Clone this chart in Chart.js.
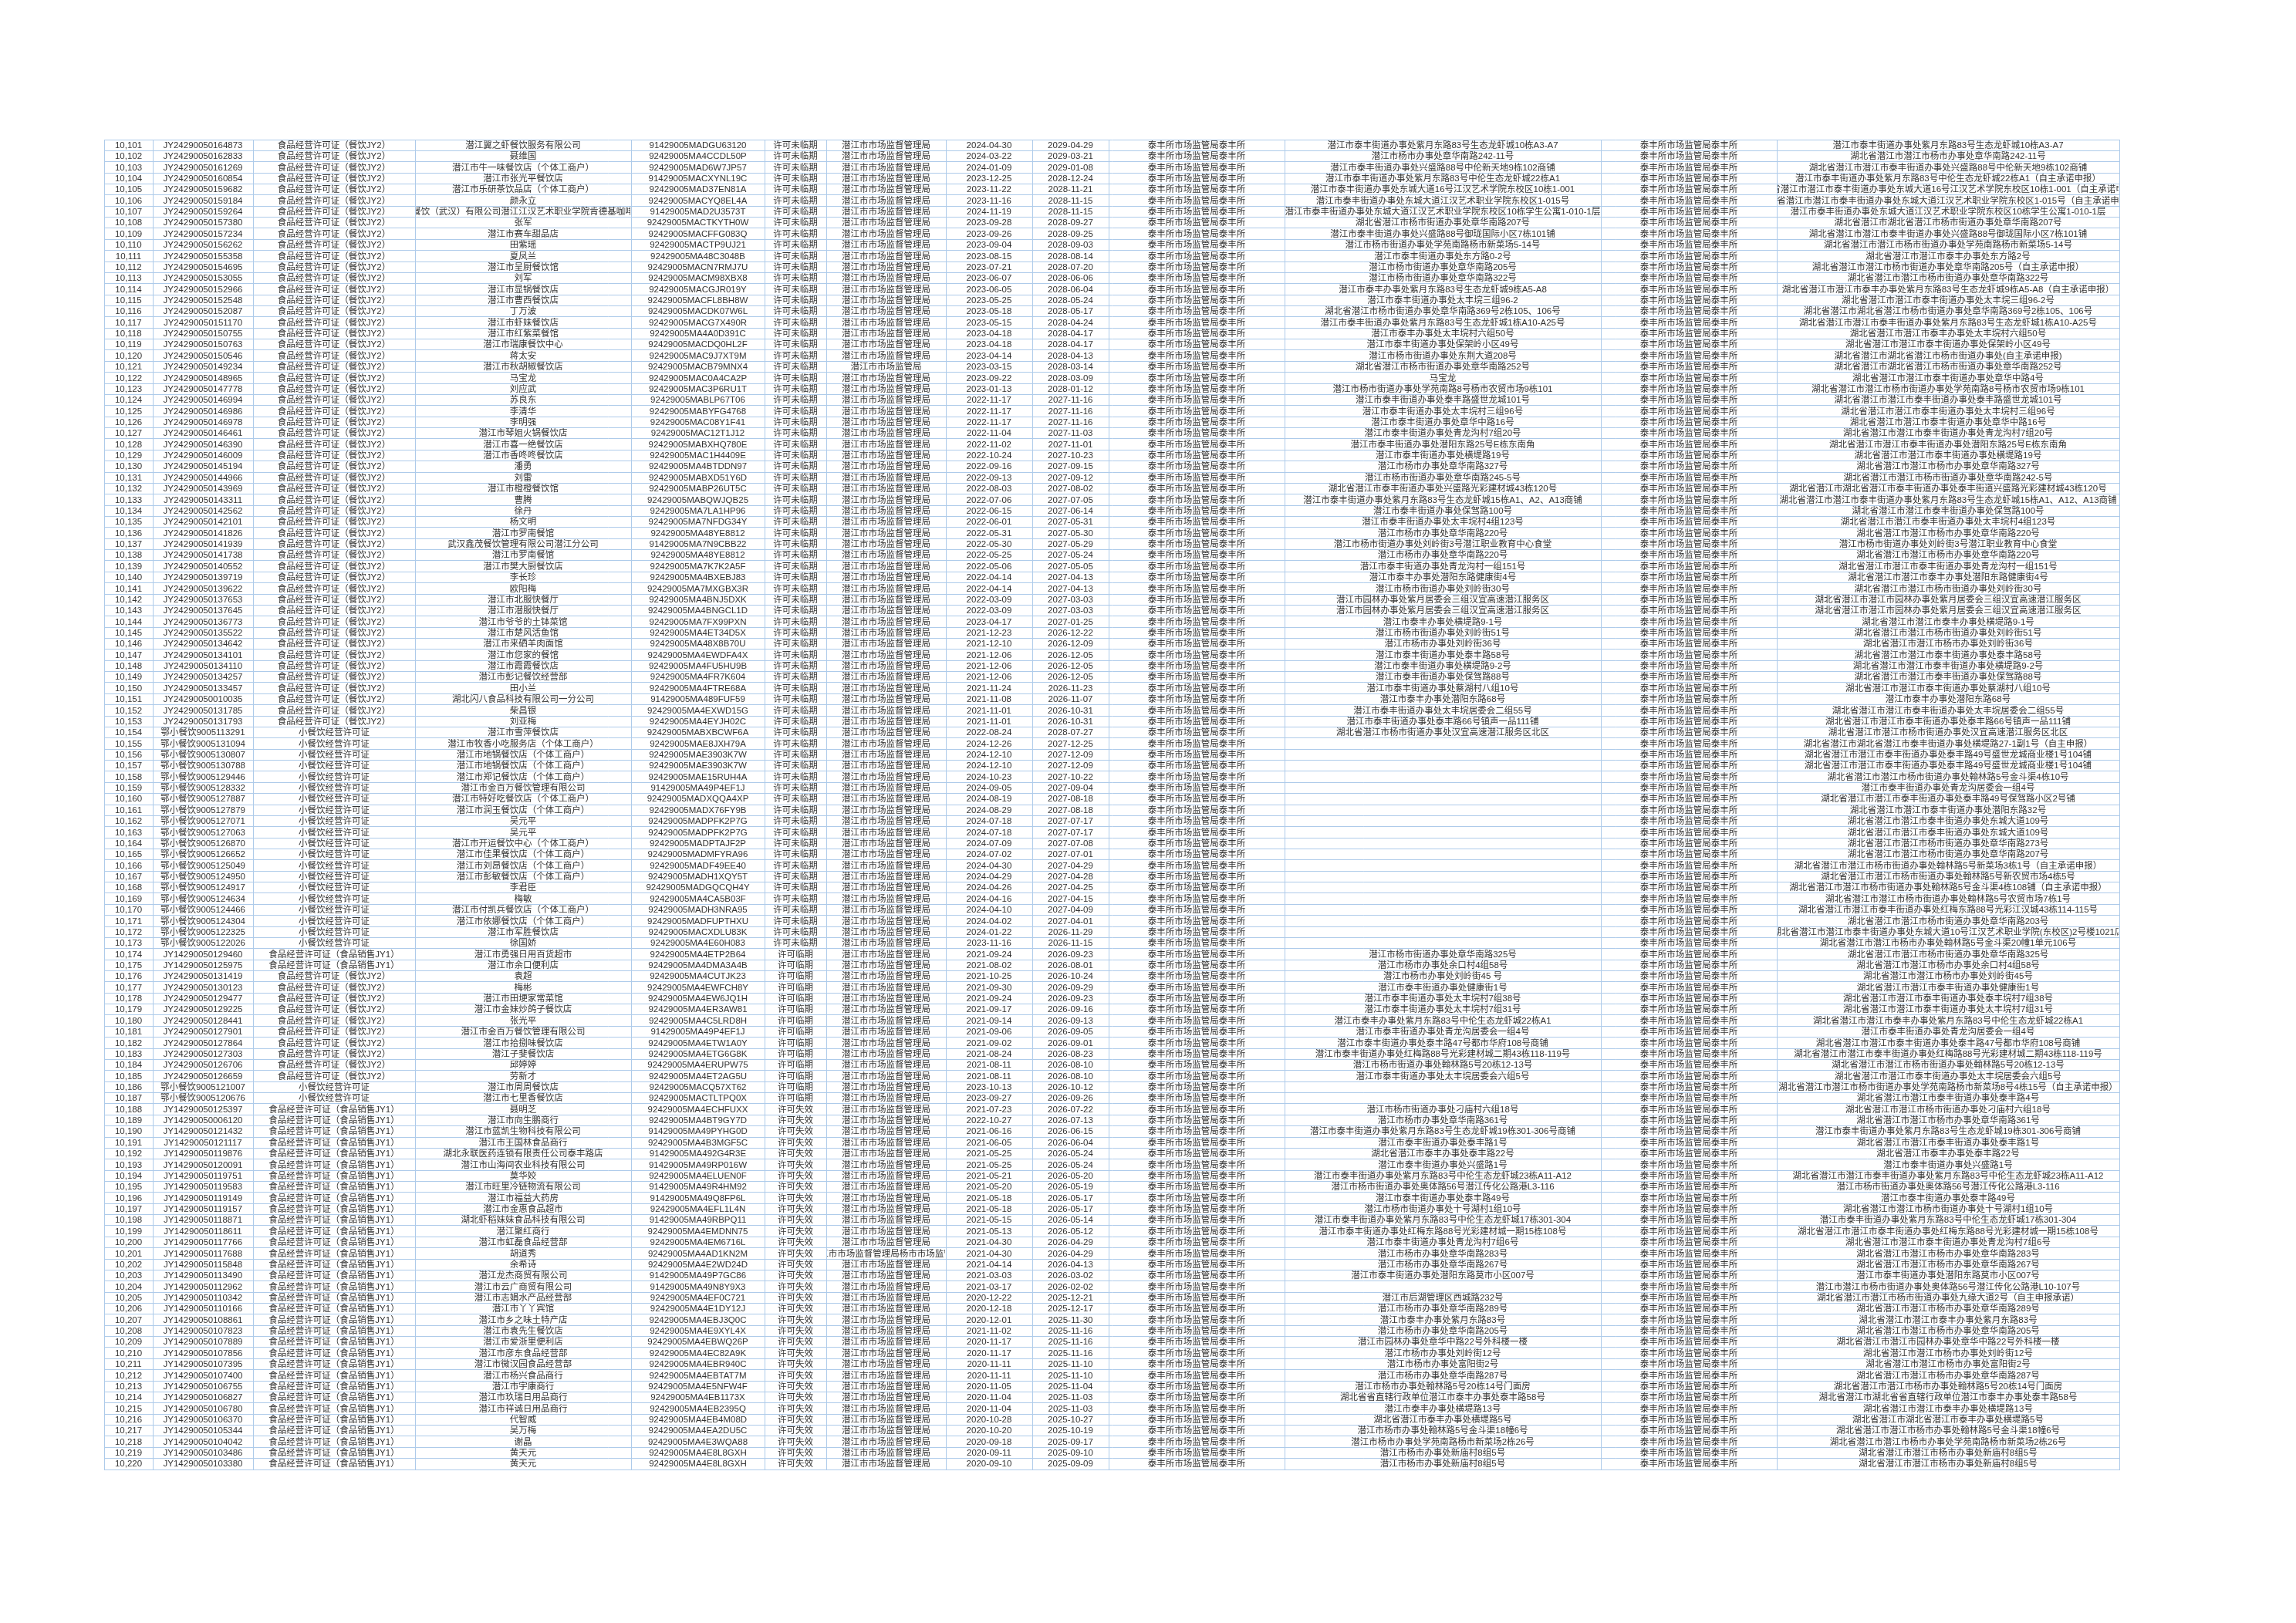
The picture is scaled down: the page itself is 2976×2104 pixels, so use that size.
<!DOCTYPE html>
<html>
<head>
<meta charset="utf-8">
<script src="https://cdn.jsdelivr.net/npm/chart.js@4.4.1/dist/chart.umd.min.js"></script>
<style>
html, body { margin: 0; padding: 0; background: #fff; }
#wrap { width: 2976px; height: 2104px; }
</style>
</head>
<body>
<div id="wrap"><canvas id="sheet"></canvas></div>
<script>
// repeated cell texts
var T2 = '食品经营许可证（餐饮JY2）';
var T1 = '食品经营许可证（食品销售JY1）';
var TS = '小餐饮经营许可证';
var S0 = '许可未临期', S1 = '许可临期', S2 = '许可失效';
var A = '潜江市市场监督管理局';
var P = '泰丰所市场监管局泰丰所';

var ids = [
  '10,101','10,102','10,103','10,104','10,105','10,106','10,107','10,108','10,109','10,110',
  '10,111','10,112','10,113','10,114','10,115','10,116','10,117','10,118','10,119','10,120',
  '10,121','10,122','10,123','10,124','10,125','10,126','10,127','10,128','10,129','10,130',
  '10,131','10,132','10,133','10,134','10,135','10,136','10,137','10,138','10,139','10,140',
  '10,141','10,142','10,143','10,144','10,145','10,146','10,147','10,148','10,149','10,150',
  '10,151','10,152','10,153','10,154','10,155','10,156','10,157','10,158','10,159','10,160',
  '10,161','10,162','10,163','10,164','10,165','10,166','10,167','10,168','10,169','10,170',
  '10,171','10,172','10,173','10,174','10,175','10,176','10,177','10,178','10,179','10,180',
  '10,181','10,182','10,183','10,184','10,185','10,186','10,187','10,188','10,189','10,190',
  '10,191','10,192','10,193','10,194','10,195','10,196','10,197','10,198','10,199','10,200',
  '10,201','10,202','10,203','10,204','10,205','10,206','10,207','10,208','10,209','10,210',
  '10,211','10,212','10,213','10,214','10,215','10,216','10,217','10,218','10,219','10,220'
];

var licenseNos = [
  'JY24290050164873','JY24290050162833','JY24290050161269','JY24290050160854','JY24290050159682','JY24290050159184','JY24290050159264','JY24290050157380','JY24290050157234','JY24290050156262',
  'JY24290050155358','JY24290050154695','JY24290050153055','JY24290050152966','JY24290050152548','JY24290050152087','JY24290050151170','JY24290050150755','JY24290050150763','JY24290050150546',
  'JY24290050149234','JY24290050148965','JY24290050147778','JY24290050146994','JY24290050146986','JY24290050146978','JY24290050146461','JY24290050146390','JY24290050146009','JY24290050145194',
  'JY24290050144966','JY24290050143969','JY24290050143311','JY24290050142562','JY24290050142101','JY24290050141826','JY24290050141939','JY24290050141738','JY24290050140552','JY24290050139719',
  'JY24290050139622','JY24290050137653','JY24290050137645','JY24290050136773','JY24290050135522','JY24290050134642','JY24290050134101','JY24290050134110','JY24290050134257','JY24290050133457',
  'JY24290050010035','JY24290050131785','JY24290050131793','鄂小餐饮9005113291','鄂小餐饮9005131094','鄂小餐饮9005130807','鄂小餐饮9005130788','鄂小餐饮9005129446','鄂小餐饮9005128332','鄂小餐饮9005127887',
  '鄂小餐饮9005127879','鄂小餐饮9005127071','鄂小餐饮9005127063','鄂小餐饮9005126870','鄂小餐饮9005126652','鄂小餐饮9005125049','鄂小餐饮9005124950','鄂小餐饮9005124917','鄂小餐饮9005124634','鄂小餐饮9005124466',
  '鄂小餐饮9005124304','鄂小餐饮9005122325','鄂小餐饮9005122026','JY14290050129460','JY14290050125975','JY24290050131419','JY24290050130123','JY24290050129477','JY24290050129225','JY24290050128441',
  'JY24290050127901','JY24290050127864','JY24290050127303','JY24290050126706','JY24290050126659','鄂小餐饮9005121007','鄂小餐饮9005120676','JY14290050125397','JY14290050006120','JY14290050121432',
  'JY14290050121117','JY14290050119876','JY14290050120091','JY14290050119751','JY14290050119583','JY14290050119149','JY14290050119157','JY14290050118871','JY14290050118611','JY14290050117766',
  'JY14290050117688','JY14290050115848','JY14290050113490','JY14290050112962','JY14290050110342','JY14290050110166','JY14290050108861','JY14290050107823','JY14290050107889','JY14290050107856',
  'JY14290050107395','JY14290050107400','JY14290050106755','JY14290050106827','JY14290050106780','JY14290050106370','JY14290050105344','JY14290050104042','JY14290050103486','JY14290050103380'
];

var licenseTypes = [
  T2,T2,T2,T2,T2,T2,T2,T2,T2,T2,
  T2,T2,T2,T2,T2,T2,T2,T2,T2,T2,
  T2,T2,T2,T2,T2,T2,T2,T2,T2,T2,
  T2,T2,T2,T2,T2,T2,T2,T2,T2,T2,
  T2,T2,T2,T2,T2,T2,T2,T2,T2,T2,
  T2,T2,T2,TS,TS,TS,TS,TS,TS,TS,
  TS,TS,TS,TS,TS,TS,TS,TS,TS,TS,
  TS,TS,TS,T1,T1,T2,T2,T2,T2,T2,
  T2,T2,T2,T2,T2,TS,TS,T1,T1,T1,
  T1,T1,T1,T1,T1,T1,T1,T1,T1,T1,
  T1,T1,T1,T1,T1,T1,T1,T1,T1,T1,
  T1,T1,T1,T1,T1,T1,T1,T1,T1,T1
];

var names = [
  '潜江翼之虾餐饮服务有限公司','聂维国','潜江市牛一味餐饮店（个体工商户）','潜江市张光平餐饮店','潜江市乐研茶饮品店（个体工商户）','颜永立','百胜餐饮（武汉）有限公司潜江江汉艺术职业学院肯德基咖啡餐厅','张军','潜江市赛车甜品店','田紫瑶',
  '夏凤兰','潜江市呈厨餐饮馆','刘军','潜江市显锅餐饮店','潜江市曹西餐饮店','丁万波','潜江市虾妹餐饮店','潜江市红紫菜餐馆','潜江市瑞康餐饮中心','蒋太安',
  '潜江市秋胡椒餐饮店','马宝龙','刘应武','苏良东','李清华','李明强','潜江市琴姐火锅餐饮店','潜江市喜一绝餐饮店','潜江市香咚咚餐饮店','潘勇',
  '刘雷','潜江市橙橙餐饮馆','曹腾','徐丹','杨文明','潜江市罗南餐馆','武汉鑫茂餐饮管理有限公司潜江分公司','潜江市罗南餐馆','潜江市樊大厨餐饮店','李长珍',
  '欧阳梅','潜江市北服快餐厅','潜江市潜服快餐厅','潜江市爷爷的土钵菜馆','潜江市楚风活鱼馆','潜江市来硒羊肉面馆','潜江市您家的餐馆','潜江市霞霞餐饮店','潜江市彭记餐饮经营部','田小兰',
  '湖北闪八食品科技有限公司一分公司','柴昌银','刘亚梅','潜江市雪萍餐饮店','潜江市牧香小吃服务店（个体工商户）','潜江市地锅餐饮店（个体工商户）','潜江市地锅餐饮店（个体工商户）','潜江市郑记餐饮店（个体工商户）','潜江市金百万餐饮管理有限公司','潜江市特好吃餐饮店（个体工商户）',
  '潜江市润玉餐饮店（个体工商户）','吴元平','吴元平','潜江市开运餐饮中心（个体工商户）','潜江市佳果餐饮店（个体工商户）','潜江市刘昂餐饮店（个体工商户）','潜江市彭敏餐饮店（个体工商户）','李君臣','梅敏','潜江市付凯兵餐饮店（个体工商户）',
  '潜江市依娜餐饮店（个体工商户）','潜江市军胜餐饮店','徐国娇','潜江市勇强日用百货超市','潜江市余口便利店','袁超','梅彬','潜江市田埂家常菜馆','潜江市金妹炒鸽子餐饮店','张光平',
  '潜江市金百万餐饮管理有限公司','潜江市拾捌味餐饮店','潜江子斐餐饮店','邱婷婷','劳新才','潜江市周周餐饮店','潜江市七里香餐饮店','聂明芝','潜江市向生鹏商行','潜江市蓝凯生物科技有限公司',
  '潜江市王国林食品商行','湖北永联医药连锁有限责任公司泰丰路店','潜江市山海间农业科技有限公司','莫华姣','潜江市旺里冷链物流有限公司','潜江市福益大药房','潜江市金惠食品超市','湖北虾稻妹妹食品科技有限公司','潜江聚红商行','潜江市虹磊食品经营部',
  '胡道秀','余希诗','潜江龙杰商贸有限公司','潜江市云广商贸有限公司','潜江市志娟水产品经营部','潜江市丫丫宾馆','潜江市乡之味土特产店','潜江市袁先生餐饮店','潜江市爱浙里便利店','潜江市彦东食品经营部',
  '潜江市微汉园食品经营部','潜江市杨兴食品商行','潜江市宇康商行','潜江市玖瑞日用品商行','潜江市祥诚日用品商行','代智威','吴万梅','谢晶','黄天元','黄天元'
];

var creditCodes = [
  '91429005MADGU63120','92429005MA4CCDL50P','92429005MAD6W7JP57','91429005MACXYNL19C','92429005MAD37EN81A','92429005MACYQ8EL4A','91429005MAD2U3573T','92429005MACTKYTH0W','92429005MACFFG083Q','92429005MACTP9UJ21',
  '92429005MA48C3048B','92429005MACN7RMJ7U','92429005MACM98XBX8','92429005MACGJR019Y','92429005MACFL8BH8W','92429005MACDK07W6L','92429005MACG7X490R','92429005MA4A0D391C','92429005MACDQ0HL2F','92429005MAC9J7XT9M',
  '92429005MACB79MNX4','92429005MAC0A4CA2P','92429005MAC3P6RU1T','92429005MABLP67T06','92429005MABYFG4768','92429005MAC08Y1F41','92429005MAC12T1J12','92429005MABXHQ780E','92429005MAC1H4409E','92429005MA4BTDDN97',
  '92429005MABXD51Y6D','92429005MABP26UT5C','92429005MABQWJQB25','92429005MA7LA1HP96','92429005MA7NFDG34Y','92429005MA48YE8812','91429005MA7N9CBB22','92429005MA48YE8812','92429005MA7K7K2A5F','92429005MA4BXEBJ83',
  '92429005MA7MXGBX3R','92429005MA4BNJ5DXK','92429005MA4BNGCL1D','92429005MA7FX99PXN','92429005MA4ET34D5X','92429005MA48X8B70U','92429005MA4EWDFA4X','92429005MA4FU5HU9B','92429005MA4FR7K604','92429005MA4FTRE68A',
  '91429005MA489FUF59','92429005MA4EXWD15G','92429005MA4EYJH02C','92429005MABXBCWF6A','92429005MAE8JXH79A','92429005MAE3903K7W','92429005MAE3903K7W','92429005MAE15RUH4A','91429005MA49P4EF1J','92429005MADXQQA4XP',
  '92429005MADX76FY9B','92429005MADPFK2P7G','92429005MADPFK2P7G','92429005MADPTAJF2P','92429005MADMFYRA96','92429005MADF49EE40','92429005MADH1XQY5T','92429005MADGQCQH4Y','92429005MA4CA5B03F','92429005MADH3NRA95',
  '92429005MADFUPTHXU','92429005MACXDLU83K','92429005MA4E60H083','92429005MA4ETP2B64','92429005MA4DMA3A4B','92429005MA4CUTJK23','92429005MA4EWFCH8Y','92429005MA4EW6JQ1H','92429005MA4ER3AW81','92429005MA4C5LRD8H',
  '91429005MA49P4EF1J','92429005MA4ETW1A0Y','92429005MA4ETG6G8K','92429005MA4ERUPW75','92429005MA4ET2AG5U','92429005MACQ57XT62','92429005MACTLTPQ0X','92429005MA4ECHFUXX','92429005MA4BT9GY7D','91429005MA49PYHG0D',
  '92429005MA4B3MGF5C','91429005MA492G4R3E','91429005MA49RP016W','92429005MA4ELUEN0F','91429005MA49R4HM92','91429005MA49Q8FP6L','92429005MA4EFL1L4N','91429005MA49RBPQ11','92429005MA4EMDNN75','92429005MA4EM6716L',
  '92429005MA4AD1KN2M','92429005MA4E2WD24D','91429005MA49P7GC86','91429005MA49N8Y9X3','92429005MA4EF0C721','92429005MA4E1DY12J','92429005MA4EBJ3Q0C','92429005MA4E9XYL4X','92429005MA4EBWQ26P','92429005MA4EC82A9K',
  '92429005MA4EBR940C','92429005MA4EBTAT7M','92429005MA4E5NFW4F','92429005MA4EB1173X','92429005MA4EB2395Q','92429005MA4EB4M08D','92429005MA4EA2DU5C','92429005MA4E3WQA88','92429005MA4E8L8GXH','92429005MA4E8L8GXH'
];

var statuses = [
  S0,S0,S0,S0,S0,S0,S0,S0,S0,S0,
  S0,S0,S0,S0,S0,S0,S0,S0,S0,S0,
  S0,S0,S0,S0,S0,S0,S0,S0,S0,S0,
  S0,S0,S0,S0,S0,S0,S0,S0,S0,S0,
  S0,S0,S0,S0,S0,S0,S0,S0,S0,S0,
  S0,S0,S0,S0,S0,S0,S0,S0,S0,S0,
  S0,S0,S0,S0,S0,S0,S0,S0,S0,S0,
  S0,S0,S0,S1,S1,S1,S1,S1,S1,S1,
  S1,S1,S1,S1,S1,S1,S1,S2,S2,S2,
  S2,S2,S2,S2,S2,S2,S2,S2,S2,S2,
  S2,S2,S2,S2,S2,S2,S2,S2,S2,S2,
  S2,S2,S2,S2,S2,S2,S2,S2,S2,S2
];

var authorities = [
  A,A,A,A,A,A,A,A,A,A,
  A,A,A,A,A,A,A,A,A,A,
  '潜江市市场监管局',A,A,A,A,A,A,A,A,A,
  A,A,A,A,A,A,A,A,A,A,
  A,A,A,A,A,A,A,A,A,A,
  A,A,A,A,A,A,A,A,A,A,
  A,A,A,A,A,A,A,A,A,A,
  A,A,A,A,A,A,A,A,A,A,
  A,A,A,A,A,A,A,A,A,A,
  A,A,A,A,A,A,A,A,A,A,
  '潜江市市场监督管理局杨市市场监管所',A,A,A,A,A,A,A,A,A,
  A,A,A,A,A,A,A,A,A,A
];

var issueDates = [
  '2024-04-30','2024-03-22','2024-01-09','2023-12-25','2023-11-22','2023-11-16','2024-11-19','2023-09-28','2023-09-26','2023-09-04',
  '2023-08-15','2023-07-21','2023-06-07','2023-06-05','2023-05-25','2023-05-18','2023-05-15','2023-04-18','2023-04-18','2023-04-14',
  '2023-03-15','2023-09-22','2023-01-13','2022-11-17','2022-11-17','2022-11-17','2022-11-04','2022-11-02','2022-10-24','2022-09-16',
  '2022-09-13','2022-08-03','2022-07-06','2022-06-15','2022-06-01','2022-05-31','2022-05-30','2022-05-25','2022-05-06','2022-04-14',
  '2022-04-14','2022-03-09','2022-03-09','2023-04-17','2021-12-23','2021-12-10','2021-12-06','2021-12-06','2021-12-06','2021-11-24',
  '2021-11-08','2021-11-01','2021-11-01','2022-08-24','2024-12-26','2024-12-10','2024-12-10','2024-10-23','2024-09-05','2024-08-19',
  '2024-08-29','2024-07-18','2024-07-18','2024-07-09','2024-07-02','2024-04-30','2024-04-29','2024-04-26','2024-04-16','2024-04-10',
  '2024-04-02','2024-01-22','2023-11-16','2021-09-24','2021-08-02','2021-10-25','2021-09-30','2021-09-24','2021-09-17','2021-09-14',
  '2021-09-06','2021-09-02','2021-08-24','2021-08-11','2021-08-11','2023-10-13','2023-09-27','2021-07-23','2022-10-27','2021-06-16',
  '2021-06-05','2021-05-25','2021-05-25','2021-05-21','2021-05-20','2021-05-18','2021-05-18','2021-05-15','2021-05-13','2021-04-30',
  '2021-04-30','2021-04-14','2021-03-03','2021-03-17','2020-12-22','2020-12-18','2020-12-01','2021-11-02','2020-11-17','2020-11-17',
  '2020-11-11','2020-11-11','2020-11-05','2020-11-04','2020-11-04','2020-10-28','2020-10-20','2020-09-18','2020-09-11','2020-09-10'
];

var expiryDates = [
  '2029-04-29','2029-03-21','2029-01-08','2028-12-24','2028-11-21','2028-11-15','2028-11-15','2028-09-27','2028-09-25','2028-09-03',
  '2028-08-14','2028-07-20','2028-06-06','2028-06-04','2028-05-24','2028-05-17','2028-04-24','2028-04-17','2028-04-17','2028-04-13',
  '2028-03-14','2028-03-09','2028-01-12','2027-11-16','2027-11-16','2027-11-16','2027-11-03','2027-11-01','2027-10-23','2027-09-15',
  '2027-09-12','2027-08-02','2027-07-05','2027-06-14','2027-05-31','2027-05-30','2027-05-29','2027-05-24','2027-05-05','2027-04-13',
  '2027-04-13','2027-03-03','2027-03-03','2027-01-25','2026-12-22','2026-12-09','2026-12-05','2026-12-05','2026-12-05','2026-11-23',
  '2026-11-07','2026-10-31','2026-10-31','2028-07-27','2027-12-25','2027-12-09','2027-12-09','2027-10-22','2027-09-04','2027-08-18',
  '2027-08-18','2027-07-17','2027-07-17','2027-07-08','2027-07-01','2027-04-29','2027-04-28','2027-04-25','2027-04-15','2027-04-09',
  '2027-04-01','2026-11-29','2026-11-15','2026-09-23','2026-08-01','2026-10-24','2026-09-29','2026-09-23','2026-09-16','2026-09-13',
  '2026-09-05','2026-09-01','2026-08-23','2026-08-10','2026-08-10','2026-10-12','2026-09-26','2026-07-22','2026-07-13','2026-06-15',
  '2026-06-04','2026-05-24','2026-05-24','2026-05-20','2026-05-19','2026-05-17','2026-05-17','2026-05-14','2026-05-12','2026-04-29',
  '2026-04-29','2026-04-13','2026-03-02','2026-02-02','2025-12-21','2025-12-17','2025-11-30','2025-11-16','2025-11-16','2025-11-16',
  '2025-11-10','2025-11-10','2025-11-04','2025-11-03','2025-11-03','2025-10-27','2025-10-19','2025-09-17','2025-09-10','2025-09-09'
];

var stations = [
  P,P,P,P,P,P,P,P,P,P, P,P,P,P,P,P,P,P,P,P, P,P,P,P,P,P,P,P,P,P,
  P,P,P,P,P,P,P,P,P,P, P,P,P,P,P,P,P,P,P,P, P,P,P,P,P,P,P,P,P,P,
  P,P,P,P,P,P,P,P,P,P, P,P,P,P,P,P,P,P,P,P, P,P,P,P,P,P,P,P,P,P,
  P,P,P,P,P,P,P,P,P,P, P,P,P,P,P,P,P,P,P,P, P,P,P,P,P,P,P,P,P,P
];

var addresses = [
  '潜江市泰丰街道办事处紫月东路83号生态龙虾城10栋A3-A7','潜江市杨市办事处章华南路242-11号','潜江市泰丰街道办事处兴盛路88号中伦新天地9栋102商铺','潜江市泰丰街道办事处紫月东路83号中伦生态龙虾城22栋A1','潜江市泰丰街道办事处东城大道16号江汉艺术学院东校区10栋1-001','潜江市泰丰街道办事处东城大道江汉艺术职业学院东校区1-015号','潜江市泰丰街道办事处东城大道江汉艺术职业学院东校区10栋学生公寓1-010-1层','湖北省潜江市杨市街道办事处章华南路207号','潜江市泰丰街道办事处兴盛路88号御珑国际小区7栋101铺','潜江市杨市街道办事处学苑南路杨市新菜场5-14号',
  '潜江市泰丰街道办事处东方路0-2号','潜江市杨市街道办事处章华南路205号','潜江市杨市街道办事处章华南路322号','潜江市泰丰办事处紫月东路83号生态龙虾城9栋A5-A8','潜江市泰丰街道办事处太丰垸三组96-2','湖北省潜江市杨市街道办事处章华南路369号2栋105、106号','潜江市泰丰街道办事处紫月东路83号生态龙虾城1栋A10-A25号','潜江市泰丰办事处太丰垸村六组50号','潜江市泰丰街道办事处保架岭小区49号','潜江市杨市街道办事处东荆大道208号',
  '湖北省潜江市杨市街道办事处章华南路252号','马宝龙','潜江市杨市街道办事处学苑南路8号杨市农贸市场9栋101','潜江市泰丰街道办事处泰丰路盛世龙城101号','潜江市泰丰街道办事处太丰垸村三组96号','潜江市泰丰街道办事处章华中路16号','潜江市泰丰街道办事处青龙沟村7组20号','潜江市泰丰街道办事处潜阳东路25号E栋东南角','潜江市泰丰街道办事处横堤路19号','潜江市杨市办事处章华南路327号',
  '潜江市杨市街道办事处章华南路245-5号','湖北省潜江市泰丰街道办事处兴盛路光彩建材城43栋120号','潜江市泰丰街道办事处紫月东路83号生态龙虾城15栋A1、A2、A13商铺','潜江市泰丰街道办事处保驾路100号','潜江市泰丰街道办事处太丰垸村4组123号','潜江市杨市办事处章华南路220号','潜江市杨市街道办事处刘岭街3号潜江职业教育中心食堂','潜江市杨市办事处章华南路220号','潜江市泰丰街道办事处青龙沟村一组151号','潜江市泰丰办事处潜阳东路健康街4号',
  '潜江市杨市街道办事处刘岭街30号','潜江市园林办事处紫月居委会三组汉宜高速潜江服务区','潜江市园林办事处紫月居委会三组汉宜高速潜江服务区','潜江市泰丰办事处横堤路9-1号','潜江市杨市街道办事处刘岭街51号','潜江市杨市办事处刘岭街36号','潜江市泰丰街道办事处泰丰路58号','潜江市泰丰街道办事处横堤路9-2号','潜江市泰丰街道办事处保驾路88号','潜江市泰丰街道办事处蔡湖村八组10号',
  '潜江市泰丰办事处潜阳东路68号','潜江市泰丰街道办事处太丰垸居委会二组55号','潜江市泰丰街道办事处泰丰路66号镇声一品111铺','湖北省潜江市杨市街道办事处汉宜高速潜江服务区北区','','','','','','',
  '','','','','','','','','','',
  '','','','潜江市杨市街道办事处章华南路325号','潜江市杨市办事处余口村4组58号','潜江市杨市办事处刘岭街45 号','潜江市泰丰街道办事处健康街1号','潜江市泰丰街道办事处太丰垸村7组38号','潜江市泰丰街道办事处太丰垸村7组31号','潜江市泰丰办事处紫月东路83号中伦生态龙虾城22栋A1',
  '潜江市泰丰街道办事处青龙沟居委会一组4号','潜江市泰丰街道办事处泰丰路47号都市华府108号商铺','潜江市泰丰街道办事处红梅路88号光彩建材城二期43栋118-119号','潜江市杨市街道办事处翰林路5号20栋12-13号','潜江市泰丰街道办事处太丰垸居委会六组5号','','','潜江市杨市街道办事处刁庙村六组18号','潜江市杨市办事处章华南路361号','潜江市泰丰街道办事处紫月东路83号生态龙虾城19栋301-306号商铺',
  '潜江市泰丰街道办事处泰丰路1号','湖北省潜江市泰丰办事处泰丰路22号','潜江市泰丰街道办事处兴盛路1号','潜江市泰丰街道办事处紫月东路83号中伦生态龙虾城23栋A11-A12','潜江市杨市街道办事处奥体路56号潜江传化公路港L3-116','潜江市泰丰街道办事处泰丰路49号','潜江市杨市街道办事处十号湖村1组10号','潜江市泰丰街道办事处紫月东路83号中伦生态龙虾城17栋301-304','潜江市泰丰街道办事处红梅东路88号光彩建材城一期15栋108号','潜江市泰丰街道办事处青龙沟村7组6号',
  '潜江市杨市办事处章华南路283号','潜江市杨市办事处章华南路267号','潜江市泰丰街道办事处潜阳东路莫市小区007号','','潜江市后湖管理区西城路232号','潜江市杨市办事处章华南路289号','潜江市泰丰办事处紫月东路83号','潜江市杨市办事处章华南路205号','潜江市园林办事处章华中路22号外科楼一楼','潜江市杨市办事处刘岭街12号',
  '潜江市杨市办事处富阳街2号','潜江市杨市办事处章华南路287号','潜江市杨市办事处翰林路5号20栋14号门面房','湖北省省直辖行政单位潜江市泰丰办事处泰丰路58号','潜江市泰丰办事处横堤路13号','湖北省潜江市泰丰办事处横堤路5号','潜江市杨市办事处翰林路5号金斗渠18幢6号','潜江市杨市办事处学苑南路杨市新菜场2栋26号','潜江市杨市办事处新庙村8组5号','潜江市杨市办事处新庙村8组5号'
];

var stations2 = stations.slice();

var addresses2 = [
  '潜江市泰丰街道办事处紫月东路83号生态龙虾城10栋A3-A7','湖北省潜江市潜江市杨市办事处章华南路242-11号','湖北省潜江市潜江市泰丰街道办事处兴盛路88号中伦新天地9栋102商铺','潜江市泰丰街道办事处紫月东路83号中伦生态龙虾城22栋A1（自主承诺申报）','湖北省潜江市潜江市泰丰街道办事处东城大道16号江汉艺术学院东校区10栋1-001（自主承诺申报）','湖北省潜江市潜江市泰丰街道办事处东城大道江汉艺术职业学院东校区1-015号（自主承诺申报）','潜江市泰丰街道办事处东城大道江汉艺术职业学院东校区10栋学生公寓1-010-1层','湖北省潜江市湖北省潜江市杨市街道办事处章华南路207号','湖北省潜江市潜江市泰丰街道办事处兴盛路88号御珑国际小区7栋101铺','湖北省潜江市潜江市杨市街道办事处学苑南路杨市新菜场5-14号',
  '湖北省潜江市潜江市泰丰办事处东方路2号','湖北省潜江市潜江市杨市街道办事处章华南路205号（自主承诺申报）','湖北省潜江市潜江市杨市街道办事处章华南路322号','湖北省潜江市潜江市泰丰办事处紫月东路83号生态龙虾城9栋A5-A8（自主承诺申报）','湖北省潜江市潜江市泰丰街道办事处太丰垸三组96-2号','湖北省潜江市湖北省潜江市杨市街道办事处章华南路369号2栋105、106号','湖北省潜江市潜江市泰丰街道办事处紫月东路83号生态龙虾城1栋A10-A25号','湖北省潜江市潜江市泰丰办事处太丰垸村六组50号','湖北省潜江市潜江市泰丰街道办事处保架岭小区49号','湖北省潜江市湖北省潜江市杨市街道办事处(自主承诺申报)',
  '湖北省潜江市湖北省潜江市杨市街道办事处章华南路252号','湖北省潜江市潜江市泰丰街道办事处章华中路4号','湖北省潜江市潜江市杨市街道办事处学苑南路8号杨市农贸市场9栋101','湖北省潜江市潜江市泰丰街道办事处泰丰路盛世龙城101号','湖北省潜江市潜江市泰丰街道办事处太丰垸村三组96号','湖北省潜江市潜江市泰丰街道办事处章华中路16号','湖北省潜江市潜江市泰丰街道办事处青龙沟村7组20号','湖北省潜江市潜江市泰丰街道办事处潜阳东路25号E栋东南角','湖北省潜江市潜江市泰丰街道办事处横堤路19号','湖北省潜江市潜江市杨市办事处章华南路327号',
  '湖北省潜江市潜江市杨市街道办事处章华南路242-5号','湖北省潜江市湖北省潜江市泰丰街道办事处泰丰街道兴盛路光彩建材城43栋120号','湖北省潜江市潜江市泰丰街道办事处紫月东路83号生态龙虾城15栋A1、A12、A13商铺','湖北省潜江市潜江市泰丰街道办事处保驾路100号','湖北省潜江市潜江市泰丰街道办事处太丰垸村4组123号','湖北省潜江市潜江市杨市办事处章华南路220号','潜江市杨市街道办事处刘岭街3号潜江职业教育中心食堂','湖北省潜江市潜江市杨市办事处章华南路220号','湖北省潜江市潜江市泰丰街道办事处青龙沟村一组151号','湖北省潜江市潜江市泰丰办事处潜阳东路健康街4号',
  '湖北省潜江市潜江市杨市街道办事处刘岭街30号','湖北省潜江市潜江市园林办事处紫月居委会三组汉宜高速潜江服务区','湖北省潜江市潜江市园林办事处紫月居委会三组汉宜高速潜江服务区','湖北省潜江市潜江市泰丰办事处横堤路9-1号','湖北省潜江市潜江市杨市街道办事处刘岭街51号','湖北省潜江市潜江市杨市办事处刘岭街36号','湖北省潜江市潜江市泰丰街道办事处泰丰路58号','湖北省潜江市潜江市泰丰街道办事处横堤路9-2号','湖北省潜江市潜江市泰丰街道办事处保驾路88号','湖北省潜江市潜江市泰丰街道办事处蔡湖村八组10号',
  '潜江市泰丰办事处潜阳东路68号','湖北省潜江市潜江市泰丰街道办事处太丰垸居委会二组55号','湖北省潜江市潜江市泰丰街道办事处泰丰路66号镇声一品111铺','湖北省潜江市潜江市杨市街道办事处汉宜高速潜江服务区北区','湖北省潜江市湖北省潜江市泰丰街道办事处横堤路27-1副1号（自主申报）','湖北省潜江市潜江市泰丰街道办事处泰丰路49号盛世龙城商业楼1号104铺','湖北省潜江市潜江市泰丰街道办事处泰丰路49号盛世龙城商业楼1号104铺','湖北省潜江市潜江市杨市街道办事处翰林路5号金斗渠4栋10号','潜江市泰丰街道办事处青龙沟居委会一组4号','湖北省潜江市潜江市泰丰街道办事处泰丰路49号保驾路小区2号铺',
  '湖北省潜江市潜江市泰丰街道办事处潜阳东路32号','湖北省潜江市潜江市泰丰街道办事处东城大道109号','湖北省潜江市潜江市泰丰街道办事处东城大道109号','湖北省潜江市潜江市杨市街道办事处章华南路273号','湖北省潜江市潜江市杨市街道办事处章华南路207号','湖北省潜江市潜江市杨市街道办事处翰林路5号新菜场3栋1号（自主承诺申报）','湖北省潜江市潜江市杨市街道办事处翰林路5号新农贸市场4栋5号','湖北省潜江市潜江市杨市街道办事处翰林路5号金斗渠4栋108铺（自主承诺申报）','湖北省潜江市潜江市杨市街道办事处翰林路5号农贸市场7栋1号','湖北省潜江市潜江市泰丰街道办事处红梅东路88号光彩江汉城43栋114-115号',
  '湖北省潜江市潜江市杨市街道办事处章华南路203号','湖北省潜江市潜江市泰丰街道办事处东城大道10号江汉艺术职业学院(东校区)2号楼1021店','湖北省潜江市潜江市杨市办事处翰林路5号金斗渠20幢1单元106号','湖北省潜江市潜江市杨市街道办事处章华南路325号','湖北省潜江市潜江市杨市办事处余口村4组58号','湖北省潜江市潜江市杨市办事处刘岭街45号','湖北省潜江市潜江市泰丰街道办事处健康街1号','湖北省潜江市潜江市泰丰街道办事处泰丰垸村7组38号','湖北省潜江市潜江市泰丰街道办事处太丰垸村7组31号','湖北省潜江市潜江市泰丰办事处紫月东路83号中伦生态龙虾城22栋A1',
  '潜江市泰丰街道办事处青龙沟居委会一组4号','湖北省潜江市潜江市泰丰街道办事处泰丰路47号都市华府108号商铺','湖北省潜江市潜江市泰丰街道办事处红梅路88号光彩建材城二期43栋118-119号','湖北省潜江市潜江市杨市街道办事处翰林路5号20栋12-13号','湖北省潜江市潜江市泰丰街道办事处太丰垸居委会六组5号','湖北省潜江市潜江市杨市街道办事处学苑南路杨市新菜场8号4栋15号（自主承诺申报）','湖北省潜江市潜江市泰丰街道办事处泰丰路4号','湖北省潜江市潜江市杨市街道办事处刁庙村六组18号','湖北省潜江市潜江市杨市办事处章华南路361号','潜江市泰丰街道办事处紫月东路83号生态龙虾城19栋301-306号商铺',
  '湖北省潜江市潜江市泰丰街道办事处泰丰路1号','湖北省潜江市泰丰办事处泰丰路22号','潜江市泰丰街道办事处兴盛路1号','湖北省潜江市潜江市泰丰街道办事处紫月东路83号中伦生态龙虾城23栋A11-A12','潜江市杨市街道办事处奥体路56号潜江传化公路港L3-116','潜江市泰丰街道办事处泰丰路49号','湖北省潜江市潜江市杨市街道办事处十号湖村1组10号','潜江市泰丰街道办事处紫月东路83号中伦生态龙虾城17栋301-304','湖北省潜江市潜江市泰丰街道办事处红梅东路88号光彩建材城一期15栋108号','湖北省潜江市潜江市泰丰街道办事处青龙沟村7组6号',
  '湖北省潜江市潜江市杨市办事处章华南路283号','湖北省潜江市潜江市杨市办事处章华南路267号','潜江市泰丰街道办事处潜阳东路莫市小区007号','潜江市潜江市杨市街道办事处奥体路56号潜江传化公路港L10-107号','湖北省潜江市潜江市杨市街道办事处九缘大道2号（自主申报承诺）','湖北省潜江市潜江市杨市办事处章华南路289号','湖北省潜江市潜江市泰丰办事处紫月东路83号','湖北省潜江市潜江市杨市办事处章华南路205号','湖北省潜江市潜江市园林办事处章华中路22号外科楼一楼','湖北省潜江市潜江市杨市办事处刘岭街12号',
  '湖北省潜江市潜江市杨市办事处富阳街2号','湖北省潜江市潜江市杨市办事处章华南路287号','湖北省潜江市潜江市杨市办事处翰林路5号20栋14号门面房','湖北省潜江市湖北省省直辖行政单位潜江市泰丰办事处泰丰路58号','湖北省潜江市潜江市泰丰办事处横堤路13号','湖北省潜江市湖北省潜江市泰丰办事处横堤路5号','湖北省潜江市潜江市杨市办事处翰林路5号金斗渠18幢6号','湖北省潜江市潜江市杨市办事处学苑南路杨市新菜场2栋26号','湖北省潜江市潜江市杨市办事处新庙村8组5号','湖北省潜江市潜江市杨市办事处新庙村8组5号'
];

// column order and layout (column edges in sheet pixel units)
var columns = [ids, licenseNos, licenseTypes, names, creditCodes, statuses, authorities,
               issueDates, expiryDates, stations, addresses, stations2, addresses2];
var colEdges = [0, 63, 193, 403, 683, 856, 936, 1091, 1203, 1302, 1530, 1940, 2168, 2612];
var lineColor = '#aecbea';

var cells = [];
for (var r = 0; r < ids.length; r++) {
  for (var c = 0; c < columns.length; c++) {
    cells.push({ x: (colEdges[c] + colEdges[c + 1]) / 2, y: r + 0.5, row: r, col: c, text: columns[c][r] });
  }
}

// draws each cell's text at its point, clipped to the cell
var cellText = {
  id: 'cellText',
  afterDatasetsDraw: function(chart) {
    var g = chart.ctx;
    var xs = chart.scales.x, ys = chart.scales.y;
    var meta = chart.getDatasetMeta(0);
    g.save();
    g.font = '11.5px "Liberation Sans", "Noto Sans CJK SC", sans-serif';
    g.fillStyle = '#333333';
    g.textAlign = 'center';
    g.textBaseline = 'middle';
    meta.data.forEach(function(pt, i) {
      var cell = cells[i];
      if (!cell || !cell.text) return;
      var left = xs.getPixelForValue(colEdges[cell.col]);
      var right = xs.getPixelForValue(colEdges[cell.col + 1]);
      var top = ys.getPixelForValue(cell.row);
      var bottom = ys.getPixelForValue(cell.row + 1);
      g.save();
      g.beginPath();
      g.rect(left + 1, top, right - left - 2, bottom - top);
      g.clip();
      g.fillText(cell.text, pt.x, pt.y + 0.5);
      g.restore();
    });
    g.restore();
  }
};

var canvas = document.getElementById('sheet');
var sheet = new Chart(canvas, {
  type: 'scatter',
  data: {
    datasets: [{
      data: cells,
      pointRadius: 0,
      pointHoverRadius: 0,
      showLine: false
    }]
  },
  options: {
    responsive: true,
    maintainAspectRatio: false,
    animation: false,
    events: [],
    layout: { padding: { left: 135, top: 181, right: 229, bottom: 199 } },
    plugins: {
      legend: { display: false },
      tooltip: { enabled: false }
    },
    scales: {
      x: {
        type: 'linear',
        min: 0,
        max: colEdges[colEdges.length - 1],
        afterBuildTicks: function(scale) {
          scale.ticks = colEdges.map(function(v) { return { value: v }; });
        },
        ticks: { display: false, autoSkip: false },
        grid: { color: lineColor, lineWidth: 1, drawTicks: false },
        border: { color: lineColor, width: 1 }
      },
      y: {
        type: 'linear',
        reverse: true,
        min: 0,
        max: ids.length,
        afterBuildTicks: function(scale) {
          var t = [];
          for (var i = 0; i <= ids.length; i++) t.push({ value: i });
          scale.ticks = t;
        },
        ticks: { display: false, autoSkip: false },
        grid: { color: lineColor, lineWidth: 1, drawTicks: false },
        border: { color: lineColor, width: 1 }
      }
    }
  },
  plugins: [cellText]
});
</script>
</body>
</html>
